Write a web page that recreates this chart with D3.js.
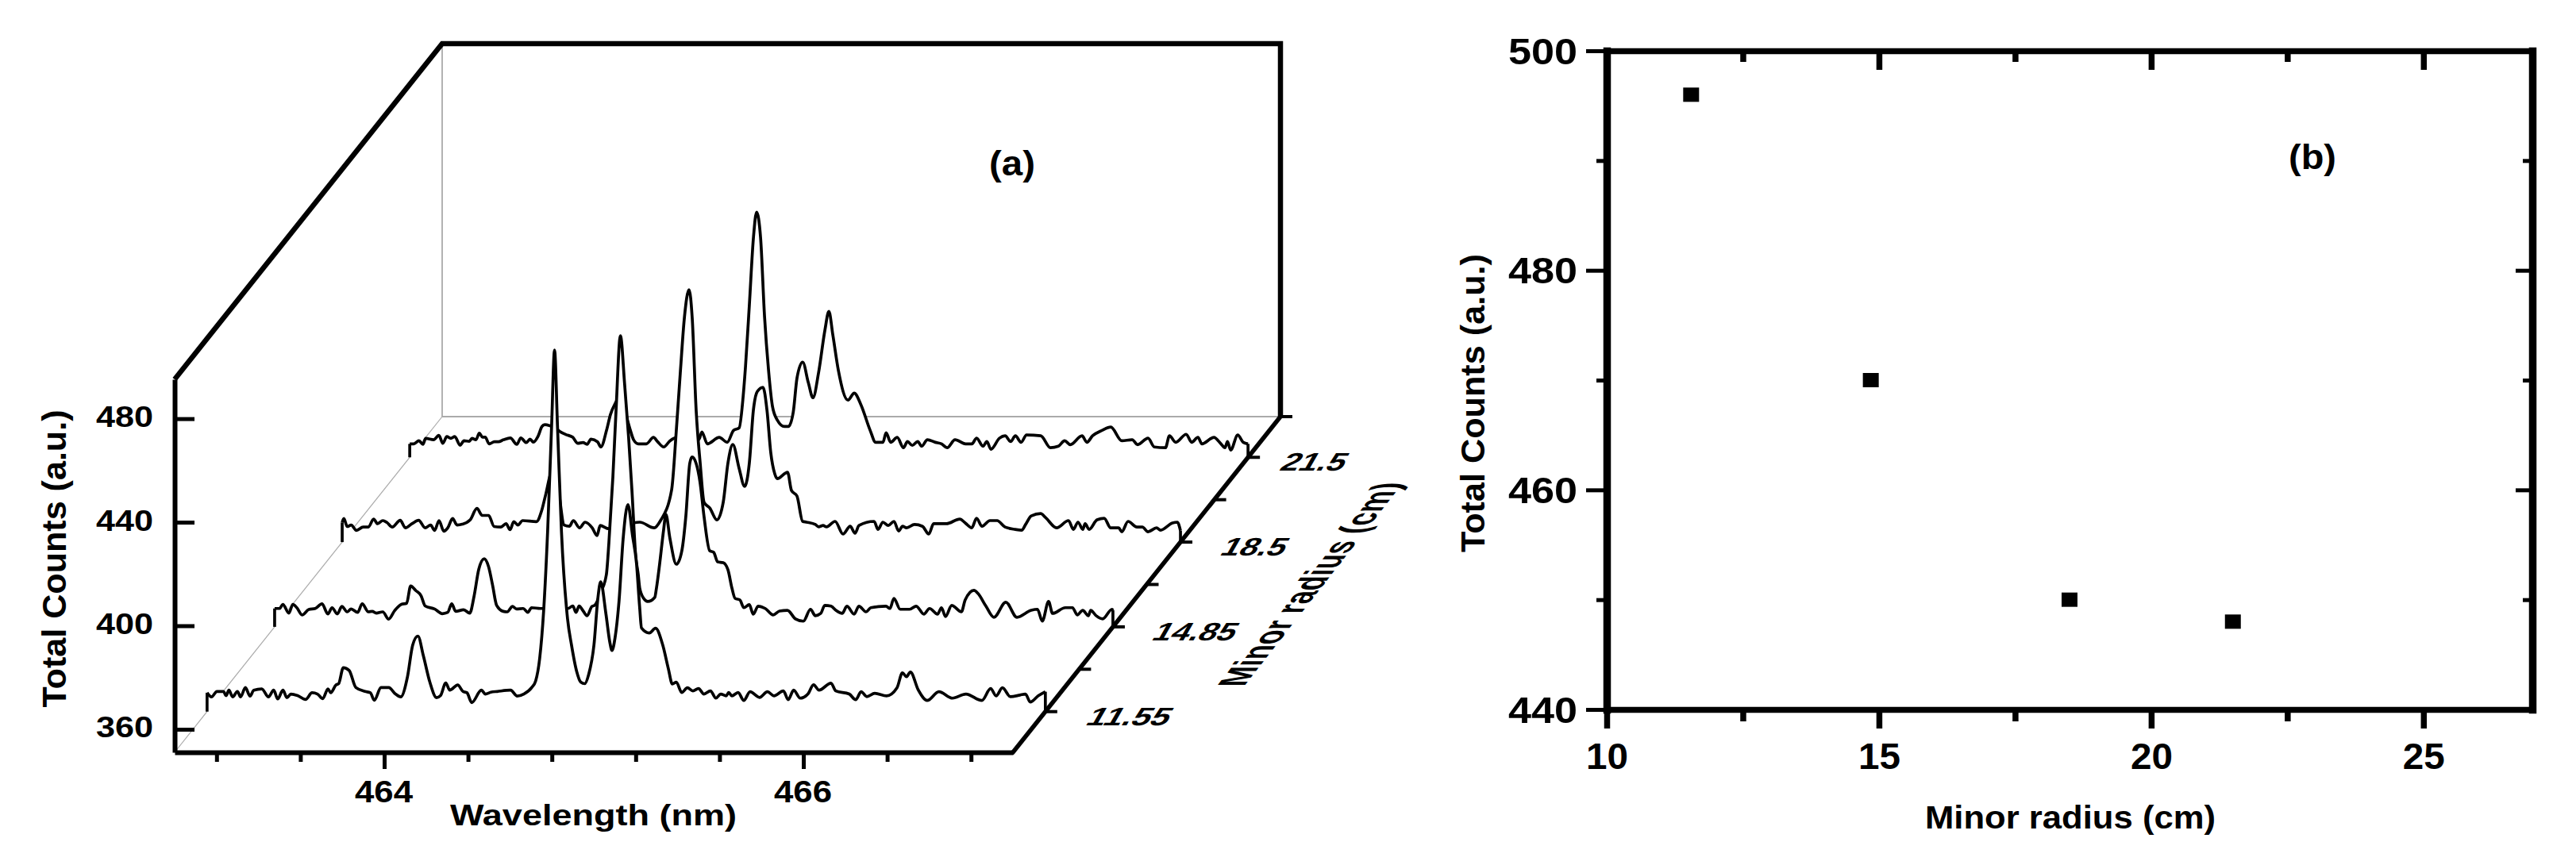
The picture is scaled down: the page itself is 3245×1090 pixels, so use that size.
<!DOCTYPE html>
<html>
<head>
<meta charset="utf-8">
<script src="https://cdn.jsdelivr.net/npm/d3@7"></script>
<style>
  body { margin: 0; background: #fff; }
  text { font-family: "Liberation Sans", Arial, sans-serif; font-weight: bold; fill: #000; }
</style>
</head>
<body>
<svg id="chart" width="3245" height="1090"></svg>
<script>
// spectra: [wavelength nm, total counts]
const spectrum1155 = [[463,358.4],[463.021,356.8],[463.047,358.9],[463.078,358.9],[463.091,357.3],[463.104,359.4],[463.122,356.8],[463.145,358.9],[463.16,356.8],[463.183,360.4],[463.205,357.1],[463.223,359.4],[463.261,359.9],[463.293,356.8],[463.318,359.4],[463.337,356],[463.362,359.4],[463.381,356.5],[463.4,357.9],[463.432,357.3],[463.47,355.8],[463.501,358.4],[463.527,357.9],[463.552,356.1],[463.577,359.9],[463.59,358.4],[463.615,361.4],[463.628,361.9],[463.65,368.1],[463.678,367],[463.71,360.4],[463.754,358.9],[463.779,358.4],[463.798,355.5],[463.83,360.4],[463.867,360.4],[463.899,357.9],[463.924,356.8],[463.956,364.5],[463.981,376.8],[464.006,380.3],[464.032,372.7],[464.063,362.5],[464.095,356.5],[464.114,357.3],[464.139,362.2],[464.158,359.4],[464.196,361.4],[464.221,358.9],[464.24,358.4],[464.263,354.6],[464.309,359.4],[464.328,357.9],[464.354,358.6],[464.385,358.9],[464.448,359.4],[464.48,357.1],[464.511,357.9],[464.549,360.4],[464.568,363],[464.587,371.6],[464.606,390],[464.625,420.7],[464.644,461.5],[464.658,490.8],[464.672,461.5],[464.691,420.7],[464.72,387],[464.739,376.8],[464.764,366.5],[464.783,362.5],[464.802,361.9],[464.821,365.5],[464.846,376.8],[464.865,395.1],[464.878,401.3],[464.903,389],[464.922,377.8],[464.932,374.7],[464.947,379.8],[464.966,394.1],[464.985,417.6],[465.008,431.1],[465.03,419.2],[465.049,408.4],[465.064,391.6],[465.073,383.4],[465.11,381.5],[465.14,383.3],[465.174,376.9],[465.201,367.7],[465.22,361.8],[465.239,362.5],[465.265,358.5],[465.292,360.3],[465.318,359.1],[465.345,360],[465.371,357.9],[465.402,359.1],[465.428,356.3],[465.451,357.9],[465.477,357.2],[465.489,358.5],[465.504,357.2],[465.534,358.5],[465.561,355.4],[465.591,358.8],[465.636,356.6],[465.674,358.8],[465.705,357.2],[465.75,359.1],[465.773,355.7],[465.799,359.4],[465.83,356.3],[465.867,357.9],[465.894,361.5],[465.92,359.4],[465.977,362.1],[466,359.1],[466.064,357.9],[466.095,355.7],[466.121,358.8],[466.148,356.9],[466.186,358.2],[466.242,357.2],[466.292,360.3],[466.318,366.1],[466.337,364.6],[466.356,366.4],[466.394,359.4],[466.436,355.4],[466.492,358.8],[466.557,356.3],[466.621,357.9],[466.697,355.4],[466.739,360],[466.765,357.2],[466.795,360.3],[466.833,356.9],[466.879,357.5],[466.905,357.9],[466.928,354.8],[466.966,357.2],[467,358.8]];
const spectrum1485 = [[463,358.2],[463.024,358.2],[463.039,359.8],[463.068,356.4],[463.087,359.8],[463.106,358.5],[463.131,355.7],[463.163,357.8],[463.194,358.2],[463.226,360],[463.254,356.1],[463.274,358.5],[463.299,356.1],[463.321,359],[463.346,356.9],[463.365,358],[463.396,356.7],[463.418,360],[463.447,356.9],[463.466,357.1],[463.485,356.4],[463.516,356.9],[463.544,354.1],[463.573,357.4],[463.605,359.8],[463.63,360.2],[463.649,366.9],[463.674,365.1],[463.699,363.1],[463.718,359.2],[463.763,358],[463.8,356.2],[463.826,356.7],[463.845,360],[463.864,357.1],[463.902,357.7],[463.931,356.4],[463.952,363.1],[463.974,373.3],[464,377.4],[464.021,374.3],[464.04,367.2],[464.059,359.5],[464.091,357.1],[464.11,356.9],[464.135,359],[464.154,358],[464.186,358.2],[464.208,356.7],[464.226,358.5],[464.268,358.2],[464.299,358.2],[464.362,358.2],[464.4,358.2],[464.423,359.2],[464.438,356.7],[464.453,359.2],[464.47,357.5],[464.491,355.4],[464.514,359],[464.527,359.4],[464.557,364.6],[464.583,371.3],[464.595,383.6],[464.614,409],[464.629,434.5],[464.65,463.6],[464.67,444.9],[464.689,424.4],[464.705,403.8],[464.723,378.4],[464.735,371.3],[464.742,366.1],[464.761,362.1],[464.78,360.9],[464.814,362.5],[464.822,366.1],[464.837,375.3],[464.856,388.5],[464.867,394.6],[464.886,385.4],[464.917,375.3],[464.943,380.5],[464.962,393.7],[464.981,414.3],[464.992,416.7],[465.011,414.3],[465.03,406.9],[465.049,393.7],[465.076,380.5],[465.095,379.9],[465.114,376.2],[465.14,375.9],[465.163,373.2],[465.182,366.1],[465.197,362.1],[465.22,361.5],[465.239,358.5],[465.265,359.7],[465.284,356],[465.307,359.1],[465.341,358.2],[465.379,355.7],[465.409,357.2],[465.447,357.5],[465.485,354.2],[465.523,353.3],[465.557,357.9],[465.58,355.4],[465.606,356.3],[465.625,359.4],[465.655,359.1],[465.678,357.5],[465.708,356.3],[465.731,359.1],[465.765,356],[465.788,359.1],[465.822,356.9],[465.845,358.5],[465.917,359.1],[465.936,358.2],[465.955,362.1],[465.985,357.9],[466.03,357.9],[466.061,359.1],[466.098,356],[466.125,358.2],[466.163,356],[466.182,358.5],[466.201,355.1],[466.231,359.4],[466.277,356.9],[466.295,361.5],[466.337,365.2],[466.356,364],[466.394,359.1],[466.432,354.8],[466.489,360.6],[466.542,354.8],[466.61,357.5],[466.64,357.9],[466.663,353.3],[466.693,360.9],[466.712,356.3],[466.773,358.5],[466.807,358.5],[466.83,355.7],[466.856,357.5],[466.883,355.4],[466.894,357.5],[466.92,355.4],[466.951,354.2],[466.996,357.9],[467,357.5]];
const spectrum185 = [[463,358.7],[463.008,360.2],[463.024,357.1],[463.043,357.7],[463.068,355.6],[463.1,356.9],[463.125,356.9],[463.15,360],[463.169,358.2],[463.194,359.4],[463.213,358.7],[463.239,356.9],[463.277,359.5],[463.302,356.6],[463.333,358.2],[463.365,359.5],[463.396,356.6],[463.422,357.7],[463.441,355.6],[463.462,359.4],[463.485,355.3],[463.504,356.6],[463.527,360.2],[463.548,357.7],[463.573,358],[463.611,359.7],[463.643,364.1],[463.668,361.4],[463.699,361.4],[463.725,357.1],[463.756,356.9],[463.782,358.2],[463.801,355.9],[463.819,359],[463.838,357.7],[463.861,359.4],[463.927,359],[463.952,363.3],[463.971,369.4],[464,378],[464.03,372],[464.059,357.7],[464.084,357.2],[464.103,359.4],[464.133,356.6],[464.159,358.8],[464.193,356.6],[464.216,353.6],[464.231,357.5],[464.269,356.3],[464.42,358.8],[464.489,356.6],[464.519,359.4],[464.572,371.3],[464.595,395],[464.614,417.3],[464.633,437.9],[464.655,448.6],[464.67,437.9],[464.689,402],[464.708,381.8],[464.727,366.4],[464.754,364.3],[464.788,359.7],[464.818,366.4],[464.841,381.8],[464.864,388.8],[464.894,379.6],[464.92,372.6],[464.943,381.8],[464.962,402],[464.981,409.3],[465.008,410.9],[465.027,402],[465.045,385.7],[465.064,377.5],[465.076,375.6],[465.125,378.1],[465.144,371],[465.17,368.9],[465.197,359.1],[465.216,358.8],[465.258,357.9],[465.273,357],[465.295,357.5],[465.311,357],[465.352,359.1],[465.39,354.2],[465.424,357.2],[465.447,354.5],[465.466,357.5],[465.538,359.1],[465.557,356],[465.58,358.8],[465.606,357.5],[465.633,359.1],[465.655,355.4],[465.674,357.2],[465.693,356.6],[465.731,357.9],[465.769,357.2],[465.799,354.2],[465.822,358.2],[465.883,358.2],[465.947,360],[465.973,358.5],[466.004,356.6],[466.027,360.3],[466.053,357.2],[466.091,359.4],[466.125,359.4],[466.163,356.9],[466.212,356],[466.242,355.7],[466.261,357.9],[466.288,361.2],[466.333,362.1],[466.356,360.6],[466.409,356.6],[466.466,359.4],[466.489,356],[466.511,358.8],[466.534,356],[466.545,358.2],[466.564,356],[466.602,359.7],[466.636,360.3],[466.667,356.6],[466.705,356.6],[466.72,355.1],[466.75,359.1],[466.792,356.9],[466.818,356.9],[466.845,355.1],[466.886,356.6],[466.905,355.7],[466.962,358.5],[466.985,358.8],[467,355.5]];
const spectrum215 = [[463,356.3],[463.019,356.3],[463.044,357.5],[463.063,356.1],[463.076,358.4],[463.114,357.9],[463.139,359.6],[463.158,356.5],[463.177,359.1],[463.196,358.4],[463.215,359.1],[463.24,355.8],[463.259,357.5],[463.284,357.3],[463.297,358.4],[463.316,357.9],[463.332,360.4],[463.347,358.9],[463.36,358.9],[463.379,356.3],[463.404,357.1],[463.423,357.1],[463.448,357.9],[463.48,358.6],[463.511,356.1],[463.53,358.6],[463.556,356.8],[463.574,358.1],[463.59,357],[463.612,359.2],[463.631,363],[463.644,363.7],[463.669,363.3],[463.694,362.5],[463.72,360.9],[463.745,359.9],[463.777,358.9],[463.802,356.5],[463.827,356.8],[463.846,356.1],[463.865,358.1],[463.896,357.1],[463.912,355.1],[463.939,361.5],[463.958,367.7],[463.985,372.6],[464,375],[464.03,368],[464.053,361.5],[464.068,357.9],[464.091,356.3],[464.129,356.3],[464.163,358.8],[464.182,357.2],[464.212,355.1],[464.242,357.5],[464.277,358.8],[464.33,358],[464.38,358],[464.394,360.9],[464.42,356.3],[464.477,358.8],[464.515,356.9],[464.545,361.5],[464.572,362.5],[464.591,374.7],[464.602,386],[464.621,410.6],[464.64,436],[464.655,445.8],[464.674,436],[464.693,405.4],[464.712,384.8],[464.731,370.7],[464.754,365.5],[464.788,363],[464.807,363],[464.83,368.6],[464.848,381.8],[464.875,387.9],[464.902,379.9],[464.924,374.1],[464.951,383.9],[464.981,400.2],[465,407.5],[465.019,398.3],[465.045,384.8],[465.091,373.2],[465.121,375.9],[465.152,371.6],[465.197,361.5],[465.223,356.9],[465.258,356.9],[465.273,360.6],[465.295,356.9],[465.326,358.8],[465.356,354.8],[465.375,357.2],[465.398,355.7],[465.424,357.2],[465.443,355.4],[465.47,357.9],[465.508,356.9],[465.538,356.3],[465.564,354.8],[465.602,357.9],[465.652,356.3],[465.682,356.3],[465.705,358.5],[465.735,355.4],[465.754,357.2],[465.773,354.2],[465.814,358.5],[465.841,359.4],[465.867,357.2],[465.89,359.4],[465.917,356.9],[465.943,359.7],[466.011,359.4],[466.057,354.8],[466.095,355.4],[466.125,357.5],[466.152,356],[466.208,359.4],[466.231,356.9],[466.258,359.4],[466.303,361.5],[466.345,362.8],[466.398,357.5],[466.447,357.9],[466.473,356],[466.523,358.5],[466.553,355.1],[466.606,354.8],[466.625,359.4],[466.655,356.9],[466.705,360],[466.731,356.9],[466.761,358.8],[466.78,356.3],[466.837,358.8],[466.871,356.3],[466.89,354.8],[466.902,357.2],[466.917,353.9],[466.951,359.7],[466.977,356.9],[467,356.3]];

// minor radius labels of the depth axis, front to back, with the trace that goes with each
const radiusLabels = ["11.55", "14.85", "18.5", "21.5"];
const spectra = [spectrum1155, spectrum1485, spectrum185, spectrum215];

const countTicksA = [360, 400, 440, 480];
const wavelengthMajor = [464, 466];
const wavelengthMinor = [463.2, 463.6, 464.4, 464.8, 465.2, 465.6, 466.4, 466.8];

// panel (b)
const minorRadius = [11.55, 14.85, 18.5, 21.5];
const totalCounts = [496, 470, 450, 448];
const radiusMajor = [10, 15, 20, 25];
const radiusMinor = [12.5, 17.5, 22.5];
const countMajorB = [440, 460, 480, 500];
const countMinorB = [450, 470, 490];

const svg = d3.select("#chart");

// ---------- panel (a) ----------
const front = { left: 220, right: 1276, top: 478, bottom: 948 };
const depthX = 337, depthY = 423; // shift of the back wall against the front plane

const xA = d3.scaleLinear().domain([463, 467]).range([front.left, front.right]);
const yA = d3.scaleLinear().domain([351.1, 495.2]).range([front.bottom, front.top]);
const depth = d3.scalePoint().domain(radiusLabels).range([0, 1]).padding(0.48);
const depthStep = depth.step();

const a = svg.append("g");

// thin grey wall lines
const grey = [
    [[front.left + depthX, front.top - depthY], [front.left + depthX, front.bottom - depthY]],
    [[front.left + depthX, front.bottom - depthY], [front.right + depthX, front.bottom - depthY]],
    [[front.left, front.bottom], [front.left + depthX, front.bottom - depthY]]
];
grey.forEach((g, i) => {
    a.append("line")
        .attr("x1", g[0][0]).attr("y1", g[0][1]).attr("x2", g[1][0]).attr("y2", g[1][1])
        .attr("stroke", "#aaa")
        .attr("stroke-width", i === 2 ? 1.2 : 1.8);
});

// thick frame at the top and on the right of the box
a.append("path")
    .attr("d", d3.line()([
        [front.left, front.top],
        [front.left + depthX, front.top - depthY],
        [front.right + depthX, front.top - depthY],
        [front.right + depthX, front.bottom - depthY]
    ]))
    .attr("fill", "none")
    .attr("stroke", "#000")
    .attr("stroke-width", 6.5)
    .attr("stroke-linejoin", "miter");

// traces, back one first: the white fill hides whatever stands behind it
d3.range(spectra.length - 1, -1, -1).forEach(i => {
    const t = depth(radiusLabels[i]);
    const sx = depthX * t, sy = depthY * t;
    const px = d => xA(d[0]) + sx;
    const py = d => yA(d[1]) - sy;
    const floor = yA.domain()[0];
    const data = spectra[i];

    a.append("path")
        .attr("d", d3.area().x(px).y0(yA(floor) - sy).y1(py).curve(d3.curveMonotoneX)(data))
        .attr("fill", "#fff");

    a.append("path")
        .attr("d", d3.line().x(px).y(py).curve(d3.curveMonotoneX)(data))
        .attr("fill", "none")
        .attr("stroke", "#000")
        .attr("stroke-width", 3.7)
        .attr("stroke-linejoin", "round");

    // drop from both ends of the trace to its base line
    [data[0], data[data.length - 1]].forEach(d => {
        a.append("line")
            .attr("x1", px(d)).attr("x2", px(d))
            .attr("y1", py(d)).attr("y2", yA(floor) - sy)
            .attr("stroke", "#000")
            .attr("stroke-width", 3.7);
    });
});

// y axis with inward ticks
const yAxisA = a.append("g")
    .attr("transform", `translate(${front.left},0)`)
    .call(d3.axisLeft(yA).tickValues(countTicksA).tickSize(-25).tickSizeOuter(0).tickPadding(27));
yAxisA.selectAll("text")
    .attr("dy", null)
    .attr("y", 10)
    .attr("font-size", 37)
    .attr("textLength", 72)
    .attr("lengthAdjust", "spacingAndGlyphs");

// x axis
const xAxisA = a.append("g")
    .attr("transform", `translate(0,${front.bottom})`)
    .call(d3.axisBottom(xA).tickValues(wavelengthMajor).tickFormat(d3.format("d")).tickSize(21).tickSizeOuter(0).tickPadding(20));
xAxisA.selectAll("text")
    .attr("dy", null)
    .attr("y", 63)
    .attr("x", -1)
    .attr("font-size", 39)
    .attr("textLength", 73)
    .attr("lengthAdjust", "spacingAndGlyphs");
a.append("g")
    .attr("transform", `translate(0,${front.bottom})`)
    .call(d3.axisBottom(xA).tickValues(wavelengthMinor).tickFormat("").tickSize(12).tickSizeOuter(0))
    .select(".domain").remove();

// oblique depth axis
a.append("line")
    .attr("x1", front.right).attr("y1", front.bottom)
    .attr("x2", front.right + depthX).attr("y2", front.bottom - depthY)
    .attr("stroke", "#000")
    .attr("stroke-width", 5.5)
    .attr("stroke-linecap", "round");

// the labels are sheared in the reference, not just italic
const labelShift = { "11.55": 49, "14.85": 47, "18.5": 48, "21.5": 38 };
radiusLabels.forEach((label, i) => {
    const t = depth(label);
    const tx = front.right + depthX * t, ty = front.bottom - depthY * t;
    a.append("line")
        .attr("x1", tx).attr("y1", ty).attr("x2", tx + 15).attr("y2", ty)
        .attr("stroke", "#000").attr("stroke-width", 4);
    a.append("text")
        .attr("transform", `translate(${tx + labelShift[label]},${ty + 17}) skewX(-30)`)
        .attr("font-size", 32)
        .attr("textLength", label.length > 4 ? 103 : 80)
        .attr("lengthAdjust", "spacingAndGlyphs")
        .text(label);
    // half step ticks between the labelled ones
    if (i < radiusLabels.length - 1) {
        const m = t + depthStep / 2;
        const mx = front.right + depthX * m, my = front.bottom - depthY * m;
        a.append("line")
            .attr("x1", mx).attr("y1", my).attr("x2", mx + 15).attr("y2", my)
            .attr("stroke", "#000").attr("stroke-width", 4);
    }
});

// tick at the back corner of the depth axis
a.append("line")
    .attr("x1", front.right + depthX).attr("y1", front.bottom - depthY)
    .attr("x2", front.right + depthX + 15).attr("y2", front.bottom - depthY)
    .attr("stroke", "#000").attr("stroke-width", 4);

a.append("text")
    .attr("transform", "translate(83,704) rotate(-90)")
    .attr("text-anchor", "middle")
    .attr("font-size", 42)
    .attr("textLength", 375)
    .attr("lengthAdjust", "spacingAndGlyphs")
    .text("Total Counts (a.u.)");

a.append("text")
    .attr("x", 747.5).attr("y", 1040)
    .attr("text-anchor", "middle")
    .attr("font-size", 37)
    .attr("textLength", 361)
    .attr("lengthAdjust", "spacingAndGlyphs")
    .text("Wavelength (nm)");

// runs along the depth axis with the letters sheared so their stems stay level
a.append("text")
    .attr("transform", "matrix(0.616,-0.788,1.32,0,1567,865)")
    .attr("font-size", 38)
    .attr("textLength", 326)
    .attr("lengthAdjust", "spacingAndGlyphs")
    .text("Minor radius (cm)");

a.append("text")
    .attr("x", 1275).attr("y", 221)
    .attr("text-anchor", "middle")
    .attr("font-size", 44)
    .attr("textLength", 58)
    .attr("lengthAdjust", "spacingAndGlyphs")
    .text("(a)");

// ---------- panel (b) ----------
const plotB = { left: 2024, right: 3190, top: 64, bottom: 894 };
const xB = d3.scaleLinear().domain([10, 27]).range([plotB.left, plotB.right]);
const yB = d3.scaleLinear().domain([440, 500]).range([plotB.bottom, plotB.top]);

const b = svg.append("g");

// bottom and left carry the labels, top and right only mirror the ticks inward
const bottomB = b.append("g")
    .attr("class", "h-axis")
    .attr("transform", `translate(0,${plotB.bottom})`)
    .call(d3.axisBottom(xB).tickValues(radiusMajor).tickSize(24).tickSizeOuter(0).tickPadding(20));
bottomB.selectAll("text")
    .attr("dy", null)
    .attr("y", 75)
    .attr("font-size", 46)
    .attr("textLength", 53)
    .attr("lengthAdjust", "spacingAndGlyphs");
b.append("g")
    .attr("class", "h-axis")
    .attr("transform", `translate(0,${plotB.bottom})`)
    .call(d3.axisBottom(xB).tickValues(radiusMinor).tickFormat("").tickSize(15).tickSizeOuter(0))
    .select(".domain").remove();

const leftB = b.append("g")
    .attr("class", "v-axis")
    .attr("transform", `translate(${plotB.left},0)`)
    .call(d3.axisLeft(yB).tickValues(countMajorB).tickSize(26).tickSizeOuter(0).tickPadding(11));
leftB.selectAll("text")
    .attr("dy", null)
    .attr("y", 16)
    .attr("font-size", 46)
    .attr("textLength", 87)
    .attr("lengthAdjust", "spacingAndGlyphs");
b.append("g")
    .attr("class", "v-axis")
    .attr("transform", `translate(${plotB.left},0)`)
    .call(d3.axisLeft(yB).tickValues(countMinorB).tickFormat("").tickSize(13).tickSizeOuter(0))
    .select(".domain").remove();

b.append("g")
    .attr("class", "h-axis")
    .attr("transform", `translate(0,${plotB.top})`)
    .call(d3.axisBottom(xB).tickValues(radiusMajor).tickFormat("").tickSize(24).tickSizeOuter(0));
b.append("g")
    .attr("class", "h-axis")
    .attr("transform", `translate(0,${plotB.top})`)
    .call(d3.axisBottom(xB).tickValues(radiusMinor).tickFormat("").tickSize(14).tickSizeOuter(0))
    .select(".domain").remove();

b.append("g")
    .attr("class", "v-axis")
    .attr("transform", `translate(${plotB.right},0)`)
    .call(d3.axisLeft(yB).tickValues(countMajorB).tickFormat("").tickSize(21).tickSizeOuter(0));
b.append("g")
    .attr("class", "v-axis")
    .attr("transform", `translate(${plotB.right},0)`)
    .call(d3.axisLeft(yB).tickValues(countMinorB).tickFormat("").tickSize(12).tickSizeOuter(0))
    .select(".domain").remove();

b.selectAll(".dot")
    .data(minorRadius)
    .enter()
    .append("rect")
    .attr("class", "dot")
    .attr("x", d => xB(d) - 10)
    .attr("y", (d, i) => yB(totalCounts[i]) - 9)
    .attr("width", 20)
    .attr("height", 18)
    .attr("fill", "#000");

b.append("text")
    .attr("transform", "translate(1870,508) rotate(-90)")
    .attr("text-anchor", "middle")
    .attr("font-size", 42)
    .attr("textLength", 376)
    .attr("lengthAdjust", "spacingAndGlyphs")
    .text("Total Counts (a.u.)");

b.append("text")
    .attr("x", 2608).attr("y", 1044)
    .attr("text-anchor", "middle")
    .attr("font-size", 40)
    .attr("textLength", 366)
    .attr("lengthAdjust", "spacingAndGlyphs")
    .text("Minor radius (cm)");

b.append("text")
    .attr("x", 2913).attr("y", 213)
    .attr("text-anchor", "middle")
    .attr("font-size", 44)
    .attr("textLength", 60)
    .attr("lengthAdjust", "spacingAndGlyphs")
    .text("(b)");

// axis styling: the reference was stretched, so widths differ per direction
a.selectAll(".domain").attr("stroke", "#000").attr("stroke-width", 6);
a.selectAll(".tick line").attr("stroke", "#000").attr("stroke-width", 5);
b.selectAll(".h-axis .domain").attr("stroke", "#000").attr("stroke-width", 7.5).attr("stroke-linecap", "square");
b.selectAll(".v-axis .domain").attr("stroke", "#000").attr("stroke-width", 9.5).attr("stroke-linecap", "square");
b.selectAll(".h-axis .tick line").attr("stroke", "#000").attr("stroke-width", 7.5);
b.selectAll(".v-axis .tick line").attr("stroke", "#000").attr("stroke-width", 5);
</script>
</body>
</html>
